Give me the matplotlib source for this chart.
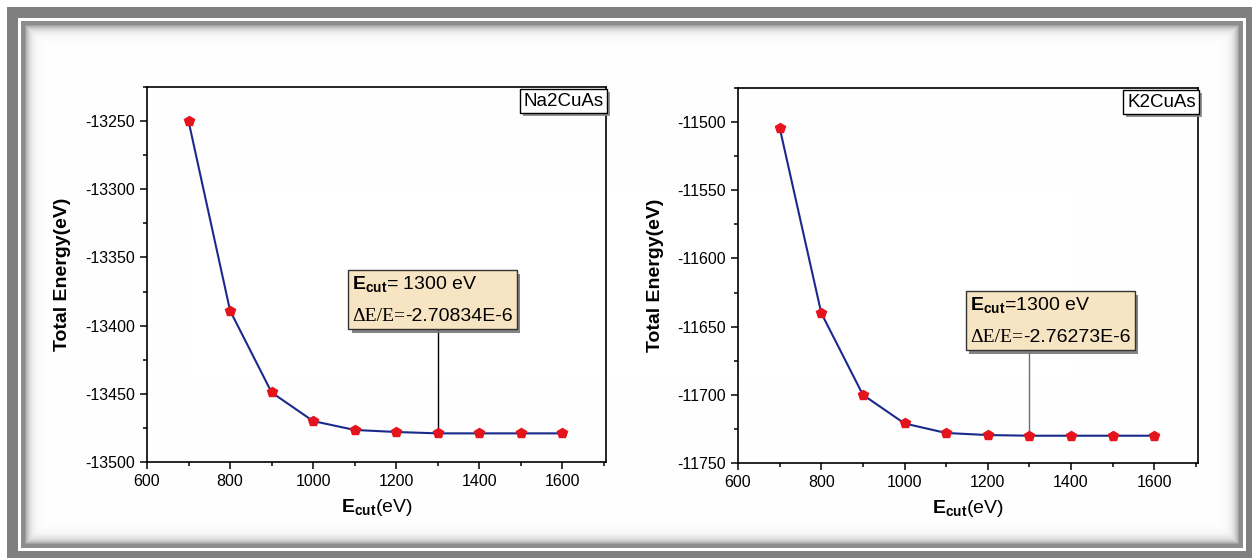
import numpy as np
import matplotlib
matplotlib.use("Agg")
import matplotlib.pyplot as plt
from matplotlib.ticker import AutoMinorLocator
from matplotlib.offsetbox import TextArea, VPacker, HPacker, AnnotationBbox
from matplotlib.patheffects import SimplePatchShadow, Normal

plt.rcParams['font.family'] = ['Liberation Sans', 'DejaVu Sans']
plt.rcParams['mathtext.fontset'] = 'custom'
plt.rcParams['mathtext.rm'] = 'Liberation Sans'
plt.rcParams['mathtext.bf'] = 'Liberation Sans:bold'
plt.rcParams['mathtext.it'] = 'Liberation Sans:italic'
plt.rcParams['axes.unicode_minus'] = False

# ---------------- data ----------------
ecut = [700, 800, 900, 1000, 1100, 1200, 1300, 1400, 1500, 1600]
energy_na = [-13250, -13389, -13449, -13470, -13476.5, -13478, -13479, -13479, -13479, -13479]
energy_k = [-11504, -11640, -11700, -11721, -11728, -11729.5, -11730, -11730, -11730, -11730]
labels = ['Na2CuAs', 'K2CuAs']
ecut_sel = 1300
line1_texts = [r'$\mathbf{E}_{\mathbf{cut}}$= 1300 eV', r'$\mathbf{E}_{\mathbf{cut}}$=1300 eV']
ratio_texts = ['-2.70834E-6', '-2.76273E-6']
yticks_na = [-13500, -13450, -13400, -13350, -13300, -13250]
yticks_k = [-11750, -11700, -11650, -11600, -11550, -11500]
xticks = [600, 800, 1000, 1200, 1400, 1600]

W, H = 1252, 558
fig = plt.figure(figsize=(W / 100, H / 100), dpi=100)

# ---------------- decorative frame ----------------
yy, xx = np.mgrid[0:H, 0:W]
bg = np.ones((H, W, 3))
def rect(x0, y0, x1, y1):
    return (xx >= x0) & (xx < x1) & (yy >= y0) & (yy < y1)
bg[rect(7, 7, W, H)] = 0.50
bg[rect(18, 18, 1246, 551)] = 1.0
bg[rect(21, 21, 1243, 548)] = 0.55
inner = rect(24, 24, 1240, 545)
d = np.minimum.reduce([xx - 24, 1239 - xx, yy - 24, 544 - yy]).astype(float)
val = 1 - 0.45 * np.exp(-d / 4.5)
bg[inner] = val[inner][:, None]
fig.figimage(bg, 0, 0, origin='upper', zorder=-10)

def fx(px):
    return px / W
def fy(py):
    return 1 - py / H

ax1 = fig.add_axes([fx(147), fy(462), fx(606) - fx(147), fy(87) - fy(462)])
ax2 = fig.add_axes([fx(738), fy(463), fx(1198) - fx(738), fy(88) - fy(463)])

panels = [
    (ax1, energy_na, yticks_na, (-13500, -13225), (1094, -13399.6), -13402.5, 'black'),
    (ax2, energy_k, yticks_k, (-11750, -11475), (1157, -11664.4), -11667.4, '#6e6e6e'),
]

for i, (ax, en, yt, ylim, boxxy, boxbottom, lcol) in enumerate(panels):
    ax.patch.set_alpha(0)
    ax.plot(ecut, en, color='#1a2a8c', lw=1.5, zorder=3)
    ax.plot(ecut, en, ls='none', marker='p', ms=7, color='#e5131b', mec='#e5131b', zorder=4)
    ax.set_xlim(600, 1705)
    ax.set_ylim(*ylim)
    ax.set_xticks(xticks)
    ax.set_yticks(yt)
    ax.xaxis.set_minor_locator(AutoMinorLocator(2))
    ax.yaxis.set_minor_locator(AutoMinorLocator(2))
    ax.tick_params(which='both', direction='out', top=False, right=False, labelsize=11.5, width=1.1)
    ax.tick_params(which='major', length=5)
    ax.tick_params(which='minor', length=3)
    for s in ax.spines.values():
        s.set_linewidth(1.2)
    ax.set_xlabel(r'$\mathbf{E}_{\mathbf{cut}}$(eV)', fontsize=14, labelpad=6)
    ax.set_ylabel('Total Energy(eV)', fontsize=14, fontweight='bold', labelpad=10)

    # vertical marker line
    ysel = en[ecut.index(ecut_sel)]
    ax.plot([ecut_sel, ecut_sel], [ysel, boxbottom], color=lcol, lw=1.0, zorder=2)

    # annotation box
    t1 = TextArea(line1_texts[i], textprops=dict(fontsize=14, family='Liberation Sans'))
    t2a = TextArea('ΔE/E=', textprops=dict(fontsize=14, family='Liberation Serif'))
    t2b = TextArea(ratio_texts[i], textprops=dict(fontsize=14, family='Liberation Sans'))
    row2 = HPacker(children=[t2a, t2b], sep=0, pad=0, align='baseline')
    pack = VPacker(children=[t1, row2], sep=10, pad=0, align='left')
    ab = AnnotationBbox(pack, boxxy, xycoords='data', box_alignment=(0, 0), frameon=True,
                        pad=0.3, bboxprops=dict(boxstyle='square,pad=0.3', fc='#f6e4c3', ec='#333333', lw=1.0),
                        zorder=5)
    ab.patch.set_path_effects([SimplePatchShadow(offset=(2.5, -2.5), shadow_rgbFace='#777777', alpha=0.9), Normal()])
    ax.add_artist(ab)

    # sample label box
    t = ax.text(0.995, 0.985, labels[i], transform=ax.transAxes, ha='right', va='top', fontsize=13.5,
                bbox=dict(boxstyle='square,pad=0.2', fc='white', ec='black', lw=1.0), zorder=6)
    t.get_bbox_patch().set_path_effects([SimplePatchShadow(offset=(2, -2), shadow_rgbFace='#888888', alpha=0.9), Normal()])

fig.savefig('out.png', dpi=100)
